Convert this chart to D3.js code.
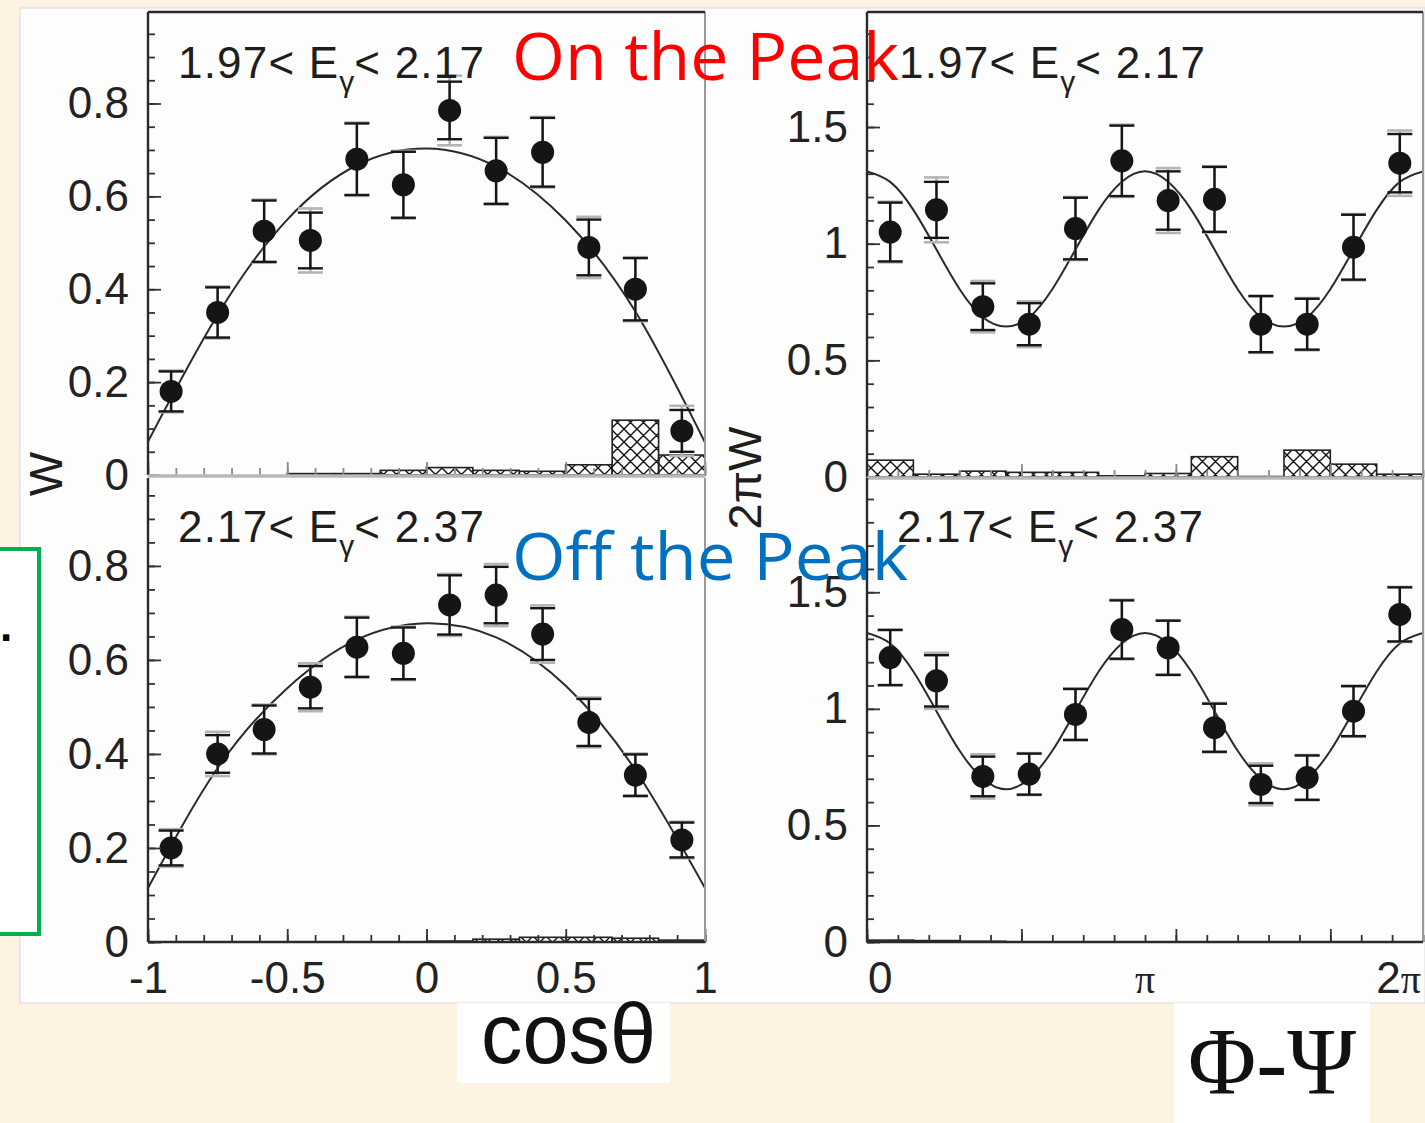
<!DOCTYPE html>
<html>
<head>
<meta charset="utf-8">
<script src="https://cdn.jsdelivr.net/npm/d3@7"></script>
<style>
  html, body { margin: 0; padding: 0; background: #fef2e2; }
  svg { display: block; }
</style>
</head>
<body>
<svg id="chart" width="1425" height="1123"></svg>
<script>
// ---- bins ----
const cosCenters = [-0.917, -0.75, -0.583, -0.417, -0.25, -0.083, 0.083, 0.25, 0.417, 0.583, 0.75, 0.917];
const cosBinWidth = 0.1667;
const phiCenters = [0.262, 0.785, 1.309, 1.833, 2.356, 2.880, 3.403, 3.927, 4.451, 4.974, 5.498, 6.021];
const phiBinWidth = 0.5236;

// ---- decay angular distributions, 1.97 < Eγ < 2.17 ----
const wCosLow      = [0.180, 0.350, 0.525, 0.505, 0.680, 0.625, 0.785, 0.655, 0.695, 0.490, 0.400, 0.095];
const wCosLowStat  = [0.043, 0.054, 0.066, 0.060, 0.077, 0.071, 0.062, 0.071, 0.074, 0.060, 0.067, 0.045];
const wCosLowTot   = [0.045, 0.056, 0.068, 0.069, 0.079, 0.073, 0.075, 0.073, 0.076, 0.066, 0.069, 0.054];
const wCosLowSys   = [0, 0, 0, 0.003, 0.003, 0.010, 0.016, 0.010, 0.008, 0.022, 0.118, 0.043];

const wPhiLow      = [1.050, 1.145, 0.730, 0.655, 1.065, 1.355, 1.185, 1.190, 0.655, 0.655, 0.985, 1.345];
const wPhiLowStat  = [0.126, 0.120, 0.100, 0.090, 0.132, 0.151, 0.125, 0.139, 0.120, 0.109, 0.139, 0.125];
const wPhiLowTot   = [0.130, 0.139, 0.110, 0.098, 0.135, 0.155, 0.139, 0.142, 0.123, 0.112, 0.142, 0.140];
const wPhiLowSys   = [0.072, 0.012, 0.025, 0.020, 0.020, 0.005, 0.015, 0.087, 0.002, 0.115, 0.055, 0.012];

// ---- decay angular distributions, 2.17 < Eγ < 2.37 ----
const wCosHigh     = [0.200, 0.400, 0.452, 0.542, 0.627, 0.614, 0.717, 0.738, 0.655, 0.467, 0.355, 0.217];
const wCosHighStat = [0.037, 0.040, 0.051, 0.045, 0.063, 0.055, 0.063, 0.060, 0.055, 0.050, 0.044, 0.037];
const wCosHighTot  = [0.040, 0.047, 0.053, 0.051, 0.065, 0.057, 0.066, 0.066, 0.061, 0.053, 0.046, 0.039];
const wCosHighSys  = [0, 0, 0, 0, 0, 0, 0.002, 0.006, 0.010, 0.010, 0.008, 0.004];

const wPhiHigh     = [1.220, 1.120, 0.710, 0.720, 0.976, 1.340, 1.262, 0.919, 0.676, 0.705, 0.990, 1.405];
const wPhiHighStat = [0.118, 0.110, 0.085, 0.088, 0.109, 0.125, 0.116, 0.103, 0.080, 0.095, 0.107, 0.116];
const wPhiHighTot  = [0.120, 0.120, 0.095, 0.090, 0.112, 0.128, 0.118, 0.106, 0.090, 0.097, 0.110, 0.118];
const wPhiHighSys  = [0.008, 0.006, 0.003, 0, 0, 0, 0, 0, 0, 0, 0, 0];

// ---- fitted curves, sampled ----
const fitCosGrid = [-1, -0.75, -0.5, -0.25, 0, 0.25, 0.5, 0.75, 1];
const fitCosLow  = [0.072, 0.345, 0.550, 0.667, 0.703, 0.664, 0.548, 0.352, 0.070];
const fitCosHigh = [0.115, 0.370, 0.540, 0.643, 0.678, 0.648, 0.545, 0.366, 0.115];
const fitPhiGrid = [0, 0.262, 0.524, 0.785, 1.047, 1.309, 1.571, 1.833, 2.094, 2.356, 2.618, 2.880,
                    3.142, 3.403, 3.665, 3.927, 4.189, 4.451, 4.712, 4.974, 5.236, 5.498, 5.760, 6.021, 6.283];
const fitPhiLow  = [1.310, 1.265, 1.145, 0.975, 0.805, 0.685, 0.645, 0.685, 0.805, 0.975, 1.145, 1.265,
                    1.310, 1.265, 1.145, 0.975, 0.805, 0.685, 0.645, 0.685, 0.805, 0.975, 1.145, 1.265, 1.310];
const fitPhiHigh = [1.325, 1.280, 1.160, 0.990, 0.820, 0.700, 0.655, 0.700, 0.820, 0.990, 1.160, 1.280,
                    1.325, 1.280, 1.160, 0.990, 0.820, 0.700, 0.655, 0.700, 0.820, 0.990, 1.160, 1.280, 1.325];

// ---- axis ticks ----
const cosMajor = [-1, -0.5, 0, 0.5, 1];
const cosMajorLabels = ["-1", "-0.5", "0", "0.5", "1"];
const cosMinor = d3.range(-10, 11).map(d => d / 10);
const phiMajorDeg = [0, 100, 200, 300];
const phiMinorDeg = d3.range(0, 361, 20);
const phiLabels = ["0", "π", "2π"];
const phiLabelAt = [0, Math.PI, 2 * Math.PI];
const wCosMajor = [0, 0.2, 0.4, 0.6, 0.8];
const wCosMajorLabels = ["0", "0.2", "0.4", "0.6", "0.8"];
const wCosMinor = d3.range(0, 20).map(d => d * 0.05);
const wPhiMajor = [0, 0.5, 1, 1.5];
const wPhiMajorLabels = ["0", "0.5", "1", "1.5"];
const wPhiMinor = d3.range(0, 20).map(d => d / 10);

const energyLow = ["1.97", "2.17"];
const energyHigh = ["2.17", "2.37"];

const svg = d3.select("#chart");
const SANS = "'Liberation Sans', Arial, Helvetica, sans-serif";
const SERIF = "'Liberation Serif', 'Times New Roman', serif";

// page background and the white plot sheet
svg.append("rect").attr("width", 1425).attr("height", 1123).attr("fill", "#fef2e2");
svg.append("rect").attr("x", 20).attr("y", 8).attr("width", 1405).attr("height", 995)
  .attr("fill", "#fdfdfd").attr("stroke", "#d8d8d8").attr("stroke-width", 1);

// cross-hatch fill for the systematic-error histograms
const defs = svg.append("defs");
const pat = defs.append("pattern").attr("id", "xhatch").attr("patternUnits", "userSpaceOnUse")
  .attr("width", 13).attr("height", 13);
pat.append("path").attr("d", "M0,0 L13,13 M13,0 L0,13 M-2,11 L2,15 M11,-2 L15,2 M-2,2 L2,-2 M11,15 L15,11")
  .attr("stroke", "#111").attr("stroke-width", 1.4).attr("fill", "none");

function styleLabels(sel) {
  sel.selectAll("text")
    .style("font-family", SANS).style("font-size", "44px").attr("fill", "#222");
}

function drawPanel(p) {
  const x = d3.scaleLinear().domain(p.xDomain).range([p.left, p.right]);
  const y = d3.scaleLinear().domain([0, p.yMax]).range([p.zero, p.top]);
  const g = svg.append("g");
  const clipId = "clip-" + p.id;
  defs.append("clipPath").attr("id", clipId).append("rect")
    .attr("x", p.left).attr("y", p.top - 2).attr("width", p.right - p.left).attr("height", p.zero - p.top + 2);

  // systematic error histogram
  g.append("g").selectAll("rect")
    .data(p.centers.map((c, i) => ({ c, s: p.sys[i] })).filter(d => d.s > 0))
    .join("rect")
    .attr("x", d => x(d.c - p.binWidth / 2))
    .attr("width", d => x(d.c + p.binWidth / 2) - x(d.c - p.binWidth / 2))
    .attr("y", d => y(d.s))
    .attr("height", d => y(0) - y(d.s))
    .attr("fill", "url(#xhatch)")
    .attr("stroke", "#222").attr("stroke-width", 1.6);

  // fitted curve
  const line = d3.line().x(d => x(d[0])).y(d => y(d[1])).curve(d3.curveNatural);
  g.append("path")
    .attr("clip-path", `url(#${clipId})`)
    .attr("d", line(p.fitX.map((v, i) => [v, p.fitY[i]])))
    .attr("fill", "none").attr("stroke", "#2a2a2a").attr("stroke-width", 2);

  const pts = p.centers.map((c, i) => ({ c, v: p.vals[i], s: p.stat[i], t: p.tot[i] }));
  const cap = 12.5;
  // total errors (grey)
  const gt = g.append("g").attr("stroke", "#b4b4b4").attr("stroke-width", 2.6);
  pts.forEach(d => {
    gt.append("line").attr("x1", x(d.c)).attr("x2", x(d.c)).attr("y1", y(d.v - d.t)).attr("y2", y(d.v + d.t));
    gt.append("line").attr("x1", x(d.c) - cap).attr("x2", x(d.c) + cap).attr("y1", y(d.v - d.t)).attr("y2", y(d.v - d.t));
    gt.append("line").attr("x1", x(d.c) - cap).attr("x2", x(d.c) + cap).attr("y1", y(d.v + d.t)).attr("y2", y(d.v + d.t));
  });
  // statistical errors (black)
  const gs = g.append("g").attr("stroke", "#161616").attr("stroke-width", 2.4);
  pts.forEach(d => {
    gs.append("line").attr("x1", x(d.c)).attr("x2", x(d.c)).attr("y1", y(d.v - d.s)).attr("y2", y(d.v + d.s));
    gs.append("line").attr("x1", x(d.c) - cap).attr("x2", x(d.c) + cap).attr("y1", y(d.v - d.s)).attr("y2", y(d.v - d.s));
    gs.append("line").attr("x1", x(d.c) - cap).attr("x2", x(d.c) + cap).attr("y1", y(d.v + d.s)).attr("y2", y(d.v + d.s));
  });
  g.append("g").selectAll("circle").data(pts).join("circle")
    .attr("cx", d => x(d.c)).attr("cy", d => y(d.v)).attr("r", 11.5).attr("fill", "#151515");

  // y axis: minor + major ticks pointing inward
  const axY = g.append("g").attr("transform", `translate(${p.left},0)`);
  axY.append("g").call(d3.axisLeft(y).tickValues(p.yMinor).tickSize(-7).tickFormat(""));
  axY.append("g").call(d3.axisLeft(y).tickValues(p.yMajor).tickSize(-13).tickPadding(19)
    .tickFormat((d, i) => p.yLabels[i]));
  axY.selectAll(".domain").remove();
  axY.selectAll("line").attr("stroke", "#333").attr("stroke-width", 1.8);
  styleLabels(axY);

  // x axis ticks along the zero line
  const axX = g.append("g").attr("transform", `translate(0,${p.zero})`);
  axX.append("g").call(d3.axisBottom(x).tickValues(p.xMinor).tickSize(-7).tickFormat(""));
  axX.append("g").call(d3.axisBottom(x).tickValues(p.xMajor).tickSize(-13).tickPadding(20)
    .tickFormat((d, i) => p.xLabels ? p.xLabels[i] : ""));
  axX.selectAll(".domain").remove();
  axX.selectAll("line").attr("stroke", p.bottom ? "#333" : "#8a8a8a").attr("stroke-width", 1.8);
  styleLabels(axX);

  // frame
  g.append("line").attr("x1", p.left).attr("x2", p.left).attr("y1", p.top).attr("y2", p.zero)
    .attr("stroke", "#2a2a2a").attr("stroke-width", 2.4);
  g.append("line").attr("x1", p.right).attr("x2", p.right).attr("y1", p.top).attr("y2", p.zero)
    .attr("stroke", "#9a9a9a").attr("stroke-width", 2);
  if (!p.bottom) {
    g.append("line").attr("x1", p.left).attr("x2", p.right).attr("y1", p.top).attr("y2", p.top)
      .attr("stroke", "#2a2a2a").attr("stroke-width", 2.4);
    g.append("line").attr("x1", p.left).attr("x2", p.right).attr("y1", y(0) + 1).attr("y2", y(0) + 1)
      .attr("stroke", "#b8b8b8").attr("stroke-width", 3.5);
  } else {
    g.append("line").attr("x1", p.left).attr("x2", p.right).attr("y1", y(0)).attr("y2", y(0))
      .attr("stroke", "#2a2a2a").attr("stroke-width", 2.6);
  }

  // energy bin label
  const t = g.append("text").attr("x", p.labelX).attr("y", p.labelY)
    .style("font-family", SANS).style("font-size", "44px").style("letter-spacing", "1.2px").attr("fill", "#1e1e1e");
  t.append("tspan").text(`${p.energy[0]}< E`);
  t.append("tspan").attr("dy", 14).style("font-size", "30px").style("letter-spacing", "0px").text("γ");
  t.append("tspan").attr("dy", -14).text(`< ${p.energy[1]}`);

  return { x, y };
}

const leftCommon = { left: 148, right: 705, xDomain: [-1, 1], centers: cosCenters, binWidth: cosBinWidth,
  fitX: fitCosGrid, xMajor: cosMajor, xMinor: cosMinor, yMajor: wCosMajor, yLabels: wCosMajorLabels, yMinor: wCosMinor };
const rightCommon = { left: 867, right: 1423, xDomain: [0, 2 * Math.PI], centers: phiCenters, binWidth: phiBinWidth,
  fitX: fitPhiGrid, xMajor: phiMajorDeg.map(d => d * Math.PI / 180), xMinor: phiMinorDeg.map(d => d * Math.PI / 180),
  yMajor: wPhiMajor, yLabels: wPhiMajorLabels, yMinor: wPhiMinor };

drawPanel({ ...leftCommon, id: "tl", top: 12, zero: 475, yMax: 0.997, vals: wCosLow, stat: wCosLowStat, tot: wCosLowTot,
  sys: wCosLowSys, fitY: fitCosLow, energy: energyLow, labelX: 178, labelY: 78, bottom: false });
drawPanel({ ...leftCommon, id: "bl", top: 478, zero: 942, yMax: 0.987, vals: wCosHigh, stat: wCosHighStat, tot: wCosHighTot,
  sys: wCosHighSys, fitY: fitCosHigh, energy: energyHigh, labelX: 178, labelY: 542, bottom: true, xLabels: cosMajorLabels });
drawPanel({ ...rightCommon, id: "tr", top: 12, zero: 477, yMax: 1.993, vals: wPhiLow, stat: wPhiLowStat, tot: wPhiLowTot,
  sys: wPhiLowSys, fitY: fitPhiLow, energy: energyLow, labelX: 899, labelY: 78, bottom: false });
const br = drawPanel({ ...rightCommon, id: "br", top: 478, zero: 942, yMax: 1.99, vals: wPhiHigh, stat: wPhiHighStat, tot: wPhiHighTot,
  sys: wPhiHighSys, fitY: fitPhiHigh, energy: energyHigh, labelX: 897, labelY: 542, bottom: true });

// Φ-Ψ axis labels in units of π
const phiLab = svg.append("g").style("font-family", SANS).style("font-size", "44px").attr("fill", "#222");
phiLabelAt.forEach((v, i) => {
  const anchor = i === 0 ? "start" : i === phiLabelAt.length - 1 ? "end" : "middle";
  const dx = i === 0 ? 1 : i === phiLabelAt.length - 1 ? -2 : 0;
  const t = phiLab.append("text").attr("x", br.x(v) + dx).attr("y", 993).attr("text-anchor", anchor);
  const s = phiLabels[i];
  if (s.includes("π")) {
    if (s.length > 1) t.append("tspan").text(s.replace("π", ""));
    t.append("tspan").style("font-family", SERIF).style("font-size", "40px").text("π");
  } else {
    t.text(s);
  }
});

// axis titles
svg.append("text").attr("transform", "translate(62,474) rotate(-90)").attr("text-anchor", "middle")
  .style("font-family", SANS).style("font-size", "47px").attr("fill", "#1e1e1e").text("W");
svg.append("text").attr("transform", "translate(761,478) rotate(-90)").attr("text-anchor", "middle")
  .style("font-family", SANS).style("font-size", "47px").attr("fill", "#1e1e1e").text("2πW");

svg.append("rect").attr("x", 457).attr("y", 1003).attr("width", 213).attr("height", 80).attr("fill", "#ffffff");
svg.append("text").attr("x", 481).attr("y", 1063).attr("textLength", 175).attr("lengthAdjust", "spacingAndGlyphs")
  .style("font-family", SANS).style("font-size", "86px").attr("fill", "#111").text("cosθ");

svg.append("rect").attr("x", 1174).attr("y", 1003).attr("width", 196).attr("height", 120).attr("fill", "#ffffff");
svg.append("text").attr("x", 1188).attr("y", 1094).attr("textLength", 168).attr("lengthAdjust", "spacingAndGlyphs")
  .style("font-family", SERIF).style("font-size", "96px").attr("fill", "#111").text("Φ-Ψ");

// annotations
svg.append("text").attr("x", 512).attr("y", 80).attr("textLength", 387).attr("lengthAdjust", "spacingAndGlyphs")
  .style("font-family", "'Open Sans', 'Noto Sans', sans-serif").style("font-size", "66px").attr("fill", "#ff0000")
  .text("On the Peak");
svg.append("text").attr("x", 512).attr("y", 580).attr("textLength", 396).attr("lengthAdjust", "spacingAndGlyphs")
  .style("font-family", "'Open Sans', 'Noto Sans', sans-serif").style("font-size", "66px").attr("fill", "#0070c0")
  .text("Off the Peak");

// green call-out box at the left margin
svg.append("rect").attr("x", -10).attr("y", 549).attr("width", 49).attr("height", 385)
  .attr("fill", "#ffffff").attr("stroke", "#00b050").attr("stroke-width", 4);
svg.append("text").attr("x", 0).attr("y", 641).style("font-family", SANS).style("font-size", "44px")
  .style("font-weight", "bold").attr("fill", "#000").text(".");
</script>
</body>
</html>
